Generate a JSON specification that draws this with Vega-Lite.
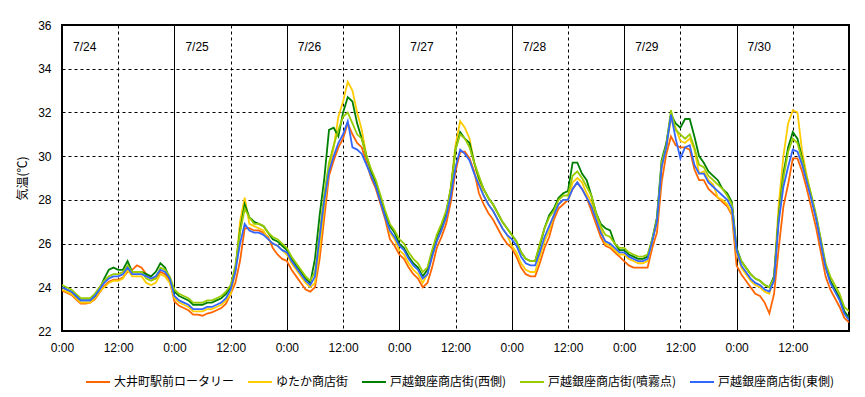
{
"$schema": "https://vega.github.io/schema/vega-lite/v6.json",
"width": 787, "height": 306,
"autosize": {"type": "none"},
"padding": {"left": 62, "top": 25, "right": 16, "bottom": 66},
"config": {"view": {"stroke": "black", "strokeWidth": 2}, "font": "Liberation Sans"},
"layer": [
{
"data": {"values": [
{"h":0,"a":23.85,"b":23.9,"c":24.0,"d":24.1,"e":24.0},
{"h":1,"a":23.75,"b":23.8,"c":23.9,"d":24.0,"e":23.9},
{"h":2,"a":23.65,"b":23.7,"c":23.8,"d":23.9,"e":23.8},
{"h":3,"a":23.45,"b":23.5,"c":23.6,"d":23.7,"e":23.6},
{"h":4,"a":23.25,"b":23.3,"c":23.4,"d":23.5,"e":23.4},
{"h":5,"a":23.25,"b":23.3,"c":23.4,"d":23.5,"e":23.4},
{"h":6,"a":23.3,"b":23.3,"c":23.4,"d":23.5,"e":23.4},
{"h":7,"a":23.45,"b":23.5,"c":23.6,"d":23.7,"e":23.6},
{"h":8,"a":23.75,"b":23.8,"c":23.9,"d":24.0,"e":23.9},
{"h":9,"a":24.05,"b":24.0,"c":24.4,"d":24.3,"e":24.2},
{"h":10,"a":24.25,"b":24.2,"c":24.8,"d":24.5,"e":24.4},
{"h":11,"a":24.35,"b":24.3,"c":24.9,"d":24.6,"e":24.5},
{"h":12,"a":24.35,"b":24.3,"c":24.8,"d":24.6,"e":24.5},
{"h":13,"a":24.45,"b":24.4,"c":24.8,"d":24.7,"e":24.6},
{"h":14,"a":24.7,"b":24.8,"c":25.2,"d":25.0,"e":24.9},
{"h":15,"a":24.8,"b":24.5,"c":24.7,"d":24.7,"e":24.6},
{"h":16,"a":25.0,"b":24.5,"c":24.7,"d":24.7,"e":24.6},
{"h":17,"a":24.9,"b":24.5,"c":24.7,"d":24.7,"e":24.6},
{"h":18,"a":24.6,"b":24.2,"c":24.6,"d":24.4,"e":24.5},
{"h":19,"a":24.4,"b":24.1,"c":24.5,"d":24.3,"e":24.4},
{"h":20,"a":24.4,"b":24.2,"c":24.7,"d":24.4,"e":24.5},
{"h":21,"a":24.7,"b":24.6,"c":25.1,"d":24.9,"e":24.8},
{"h":22,"a":24.6,"b":24.5,"c":24.9,"d":24.8,"e":24.7},
{"h":23,"a":24.3,"b":24.2,"c":24.4,"d":24.5,"e":24.4},
{"h":24,"a":23.35,"b":23.5,"c":23.8,"d":23.9,"e":23.6},
{"h":25,"a":23.15,"b":23.3,"c":23.6,"d":23.7,"e":23.4},
{"h":26,"a":23.05,"b":23.2,"c":23.5,"d":23.6,"e":23.3},
{"h":27,"a":22.95,"b":23.1,"c":23.4,"d":23.5,"e":23.2},
{"h":28,"a":22.75,"b":22.9,"c":23.2,"d":23.3,"e":23.0},
{"h":29,"a":22.75,"b":22.9,"c":23.2,"d":23.3,"e":23.0},
{"h":30,"a":22.7,"b":22.9,"c":23.2,"d":23.3,"e":23.0},
{"h":31,"a":22.8,"b":23.0,"c":23.3,"d":23.4,"e":23.1},
{"h":32,"a":22.85,"b":23.0,"c":23.3,"d":23.4,"e":23.1},
{"h":33,"a":22.95,"b":23.1,"c":23.4,"d":23.5,"e":23.2},
{"h":34,"a":23.05,"b":23.2,"c":23.5,"d":23.6,"e":23.3},
{"h":35,"a":23.25,"b":23.4,"c":23.7,"d":23.8,"e":23.5},
{"h":36,"a":23.7,"b":23.7,"c":24.0,"d":24.1,"e":23.9},
{"h":37,"a":24.2,"b":24.7,"c":24.8,"d":25.0,"e":24.7},
{"h":38,"a":25.2,"b":27.0,"c":26.6,"d":26.5,"e":26.0},
{"h":39,"a":26.7,"b":28.1,"c":27.8,"d":27.6,"e":26.9},
{"h":40,"a":26.7,"b":26.9,"c":27.2,"d":27.2,"e":26.6},
{"h":41,"a":26.6,"b":26.8,"c":27.0,"d":26.9,"e":26.5},
{"h":42,"a":26.6,"b":26.7,"c":26.9,"d":26.9,"e":26.5},
{"h":43,"a":26.5,"b":26.6,"c":26.8,"d":26.8,"e":26.4},
{"h":44,"a":26.3,"b":26.2,"c":26.5,"d":26.5,"e":26.2},
{"h":45,"a":25.8,"b":26.0,"c":26.2,"d":26.3,"e":26.0},
{"h":46,"a":25.5,"b":25.9,"c":26.1,"d":26.2,"e":25.9},
{"h":47,"a":25.3,"b":25.7,"c":25.9,"d":26.0,"e":25.7},
{"h":48,"a":25.2,"b":25.5,"c":25.7,"d":25.8,"e":25.6},
{"h":49,"a":24.8,"b":25.1,"c":25.3,"d":25.4,"e":25.2},
{"h":50,"a":24.5,"b":24.8,"c":25.0,"d":25.1,"e":24.9},
{"h":51,"a":24.2,"b":24.5,"c":24.7,"d":24.8,"e":24.6},
{"h":52,"a":23.9,"b":24.2,"c":24.4,"d":24.5,"e":24.3},
{"h":53,"a":23.8,"b":24.0,"c":24.2,"d":24.3,"e":24.1},
{"h":54,"a":24.0,"b":24.2,"c":25.3,"d":24.7,"e":24.5},
{"h":55,"a":25.3,"b":25.8,"c":27.3,"d":26.5,"e":26.3},
{"h":56,"a":27.2,"b":27.7,"c":29.0,"d":28.3,"e":28.0},
{"h":57,"a":29.1,"b":29.4,"c":31.2,"d":29.7,"e":29.3},
{"h":58,"a":29.8,"b":30.4,"c":31.3,"d":30.5,"e":30.0},
{"h":59,"a":30.4,"b":31.8,"c":30.9,"d":31.2,"e":30.6},
{"h":60,"a":30.8,"b":32.5,"c":32.0,"d":31.8,"e":31.0},
{"h":61,"a":31.5,"b":33.4,"c":32.7,"d":32.0,"e":31.6},
{"h":62,"a":31.0,"b":33.0,"c":32.5,"d":31.5,"e":30.4},
{"h":63,"a":30.6,"b":32.0,"c":31.5,"d":31.0,"e":30.3},
{"h":64,"a":30.4,"b":31.2,"c":30.8,"d":30.8,"e":30.1},
{"h":65,"a":29.7,"b":30.0,"c":30.0,"d":30.0,"e":29.6},
{"h":66,"a":29.0,"b":29.2,"c":29.3,"d":29.4,"e":29.1},
{"h":67,"a":28.5,"b":28.7,"c":28.8,"d":28.9,"e":28.6},
{"h":68,"a":27.8,"b":28.0,"c":28.1,"d":28.2,"e":27.9},
{"h":69,"a":27.1,"b":27.3,"c":27.4,"d":27.5,"e":27.2},
{"h":70,"a":26.2,"b":26.5,"c":26.8,"d":26.9,"e":26.6},
{"h":71,"a":25.9,"b":26.2,"c":26.5,"d":26.6,"e":26.3},
{"h":72,"a":25.5,"b":25.7,"c":26.0,"d":26.2,"e":25.9},
{"h":73,"a":25.3,"b":25.5,"c":25.8,"d":26.0,"e":25.7},
{"h":74,"a":24.9,"b":25.1,"c":25.4,"d":25.6,"e":25.3},
{"h":75,"a":24.6,"b":24.8,"c":25.1,"d":25.3,"e":25.0},
{"h":76,"a":24.4,"b":24.6,"c":24.9,"d":25.1,"e":24.8},
{"h":77,"a":24.0,"b":24.2,"c":24.5,"d":24.7,"e":24.4},
{"h":78,"a":24.2,"b":24.6,"c":24.8,"d":24.9,"e":24.6},
{"h":79,"a":24.9,"b":25.4,"c":25.6,"d":25.7,"e":25.4},
{"h":80,"a":25.8,"b":26.1,"c":26.3,"d":26.4,"e":26.1},
{"h":81,"a":26.3,"b":26.6,"c":26.8,"d":26.9,"e":26.6},
{"h":82,"a":26.9,"b":27.2,"c":27.4,"d":27.5,"e":27.2},
{"h":83,"a":27.9,"b":28.6,"c":28.5,"d":28.5,"e":28.2},
{"h":84,"a":29.3,"b":30.5,"c":30.3,"d":30.3,"e":29.5},
{"h":85,"a":30.2,"b":31.6,"c":31.1,"d":31.0,"e":30.3},
{"h":86,"a":30.2,"b":31.3,"c":30.8,"d":30.8,"e":30.1},
{"h":87,"a":29.9,"b":30.8,"c":30.6,"d":30.4,"e":29.8},
{"h":88,"a":29.3,"b":29.7,"c":29.7,"d":29.7,"e":29.2},
{"h":89,"a":28.3,"b":28.9,"c":29.0,"d":29.1,"e":28.7},
{"h":90,"a":27.8,"b":28.2,"c":28.5,"d":28.5,"e":28.2},
{"h":91,"a":27.4,"b":27.8,"c":28.1,"d":28.1,"e":27.8},
{"h":92,"a":27.1,"b":27.5,"c":27.8,"d":27.8,"e":27.5},
{"h":93,"a":26.7,"b":27.1,"c":27.4,"d":27.4,"e":27.1},
{"h":94,"a":26.3,"b":26.7,"c":27.0,"d":27.0,"e":26.7},
{"h":95,"a":26.0,"b":26.4,"c":26.7,"d":26.7,"e":26.4},
{"h":96,"a":25.8,"b":25.9,"c":26.4,"d":26.4,"e":26.2},
{"h":97,"a":25.4,"b":25.6,"c":26.1,"d":26.1,"e":25.9},
{"h":98,"a":24.9,"b":25.1,"c":25.6,"d":25.6,"e":25.4},
{"h":99,"a":24.6,"b":24.8,"c":25.3,"d":25.3,"e":25.1},
{"h":100,"a":24.5,"b":24.7,"c":25.2,"d":25.2,"e":25.0},
{"h":101,"a":24.5,"b":24.7,"c":25.2,"d":25.2,"e":25.0},
{"h":102,"a":25.1,"b":25.4,"c":25.9,"d":26.0,"e":25.6},
{"h":103,"a":25.8,"b":26.1,"c":26.7,"d":26.7,"e":26.3},
{"h":104,"a":26.3,"b":26.6,"c":27.3,"d":27.2,"e":26.8},
{"h":105,"a":27.1,"b":27.3,"c":27.6,"d":27.5,"e":27.3},
{"h":106,"a":27.6,"b":27.8,"c":28.1,"d":28.0,"e":27.8},
{"h":107,"a":27.8,"b":28.0,"c":28.3,"d":28.2,"e":28.0},
{"h":108,"a":28.0,"b":28.0,"c":28.4,"d":28.2,"e":28.0},
{"h":109,"a":28.5,"b":28.8,"c":29.7,"d":29.1,"e":28.5},
{"h":110,"a":28.8,"b":29.0,"c":29.7,"d":29.3,"e":28.8},
{"h":111,"a":28.5,"b":28.8,"c":29.2,"d":29.0,"e":28.5},
{"h":112,"a":28.1,"b":28.3,"c":28.9,"d":28.6,"e":28.1},
{"h":113,"a":27.5,"b":27.9,"c":28.2,"d":28.2,"e":27.7},
{"h":114,"a":26.9,"b":27.3,"c":27.4,"d":27.4,"e":27.1},
{"h":115,"a":26.3,"b":26.7,"c":26.9,"d":26.8,"e":26.5},
{"h":116,"a":25.9,"b":26.0,"c":26.7,"d":26.4,"e":26.1},
{"h":117,"a":25.8,"b":25.9,"c":26.6,"d":26.3,"e":26.0},
{"h":118,"a":25.6,"b":25.7,"c":26.0,"d":26.0,"e":25.8},
{"h":119,"a":25.4,"b":25.5,"c":25.7,"d":25.8,"e":25.6},
{"h":120,"a":25.2,"b":25.5,"c":25.7,"d":25.8,"e":25.6},
{"h":121,"a":25.0,"b":25.3,"c":25.5,"d":25.6,"e":25.4},
{"h":122,"a":24.9,"b":25.2,"c":25.4,"d":25.5,"e":25.3},
{"h":123,"a":24.9,"b":25.1,"c":25.3,"d":25.4,"e":25.2},
{"h":124,"a":24.9,"b":25.1,"c":25.3,"d":25.4,"e":25.2},
{"h":125,"a":24.9,"b":25.2,"c":25.4,"d":25.5,"e":25.3},
{"h":126,"a":25.8,"b":26.1,"c":26.2,"d":26.2,"e":26.1},
{"h":127,"a":26.5,"b":27.0,"c":27.2,"d":27.1,"e":27.0},
{"h":128,"a":28.8,"b":29.5,"c":29.8,"d":29.7,"e":29.5},
{"h":129,"a":30.1,"b":30.4,"c":30.6,"d":30.5,"e":30.4},
{"h":130,"a":30.9,"b":31.7,"c":31.9,"d":32.1,"e":31.9},
{"h":131,"a":30.5,"b":31.3,"c":31.5,"d":31.2,"e":30.8},
{"h":132,"a":30.4,"b":30.7,"c":31.3,"d":31.0,"e":29.9},
{"h":133,"a":30.4,"b":30.6,"c":31.7,"d":30.8,"e":30.4},
{"h":134,"a":30.3,"b":30.8,"c":31.7,"d":31.0,"e":30.5},
{"h":135,"a":29.4,"b":30.3,"c":30.9,"d":30.4,"e":29.6},
{"h":136,"a":28.9,"b":29.2,"c":30.0,"d":29.6,"e":29.2},
{"h":137,"a":28.9,"b":29.3,"c":29.7,"d":29.5,"e":29.2},
{"h":138,"a":28.5,"b":28.9,"c":29.3,"d":29.1,"e":28.8},
{"h":139,"a":28.3,"b":28.7,"c":29.1,"d":28.9,"e":28.6},
{"h":140,"a":28.1,"b":28.1,"c":28.9,"d":28.7,"e":28.4},
{"h":141,"a":27.9,"b":28.0,"c":28.5,"d":28.5,"e":28.2},
{"h":142,"a":27.7,"b":27.8,"c":28.3,"d":28.2,"e":28.0},
{"h":143,"a":27.3,"b":27.4,"c":27.9,"d":27.8,"e":27.6},
{"h":144,"a":25.0,"b":25.6,"c":25.8,"d":25.7,"e":25.7},
{"h":145,"a":24.6,"b":24.9,"c":25.2,"d":25.2,"e":25.0},
{"h":146,"a":24.3,"b":24.6,"c":24.9,"d":24.9,"e":24.7},
{"h":147,"a":24.0,"b":24.3,"c":24.6,"d":24.6,"e":24.4},
{"h":148,"a":23.7,"b":24.1,"c":24.4,"d":24.4,"e":24.2},
{"h":149,"a":23.6,"b":24.0,"c":24.3,"d":24.3,"e":24.1},
{"h":150,"a":23.3,"b":23.8,"c":24.1,"d":24.1,"e":23.9},
{"h":151,"a":22.8,"b":23.7,"c":24.0,"d":24.0,"e":23.8},
{"h":152,"a":23.7,"b":24.5,"c":24.5,"d":24.4,"e":24.3},
{"h":153,"a":25.8,"b":27.8,"c":27.3,"d":27.2,"e":27.0},
{"h":154,"a":27.7,"b":30.0,"c":29.2,"d":29.0,"e":28.6},
{"h":155,"a":28.7,"b":31.5,"c":30.4,"d":30.2,"e":29.5},
{"h":156,"a":29.9,"b":32.1,"c":31.1,"d":30.8,"e":30.3},
{"h":157,"a":29.9,"b":32.0,"c":30.8,"d":30.6,"e":30.2},
{"h":158,"a":29.3,"b":30.2,"c":29.9,"d":29.8,"e":29.6},
{"h":159,"a":28.5,"b":29.1,"c":28.9,"d":29.0,"e":28.8},
{"h":160,"a":27.6,"b":28.1,"c":28.1,"d":28.2,"e":28.0},
{"h":161,"a":26.7,"b":27.2,"c":27.2,"d":27.3,"e":27.1},
{"h":162,"a":25.6,"b":26.1,"c":26.1,"d":26.2,"e":26.0},
{"h":163,"a":24.5,"b":25.0,"c":25.0,"d":25.1,"e":24.9},
{"h":164,"a":23.9,"b":24.3,"c":24.3,"d":24.5,"e":24.2},
{"h":165,"a":23.5,"b":23.9,"c":23.9,"d":24.1,"e":23.8},
{"h":166,"a":23.1,"b":23.5,"c":23.5,"d":23.7,"e":23.4},
{"h":167,"a":22.6,"b":22.9,"c":22.9,"d":23.1,"e":22.8},
{"h":168,"a":22.4,"b":22.6,"c":22.6,"d":22.9,"e":22.5}
]},
"transform": [{"fold": ["a", "b", "c", "d", "e"], "as": ["series", "temp"]}],
"mark": {"type": "line", "strokeWidth": 1.8, "clip": true},
"encoding": {
"x": {"field": "h", "type": "quantitative",
 "scale": {"domain": [0, 168], "nice": false, "zero": false},
 "axis": {"values": [0,12,24,36,48,60,72,84,96,108,120,132,144,156],
  "labelExpr": "datum.value % 24 === 0 ? '0:00' : '12:00'",
  "title": null, "grid": true, "gridColor": "black", "gridOpacity": 1, "gridWidth": 1,
  "gridDash": {"condition": {"test": "datum.value % 24 === 0", "value": []}, "value": [3, 3]},
  "tickSize": 0, "domain": false, "labelPadding": 11, "labelFontSize": 12,
  "labelFont": "Liberation Sans", "labelColor": "black", "labelFlush": false, "labelOverlap": false}},
"y": {"field": "temp", "type": "quantitative",
 "scale": {"domain": [22, 36], "nice": false, "zero": false},
 "axis": {"values": [22,24,26,28,30,32,34,36], "title": "気温(℃)",
  "titleFont": "Noto Sans CJK JP", "titleFontSize": 12, "titleFontWeight": "normal", "titleColor": "black", "titlePadding": 8,
  "grid": true, "gridColor": "black", "gridOpacity": 1, "gridWidth": 1, "gridDash": [3, 3],
  "tickSize": 0, "domain": false, "labelPadding": 11, "labelFontSize": 12,
  "labelFont": "Liberation Sans", "labelColor": "black", "labelOverlap": false}},
"color": {"field": "series", "type": "nominal",
 "scale": {"domain": ["a", "b", "c", "d", "e"], "range": ["#FF6600", "#FFCC00", "#008000", "#99CC00", "#3366FF"]},
 "legend": {"orient": "none", "legendX": 23, "legendY": 344, "direction": "horizontal", "title": null,
  "symbolType": "stroke", "symbolSize": 576, "symbolStrokeWidth": 2,
  "labelFont": "Noto Sans CJK JP", "labelFontSize": 12, "labelColor": "black", "labelOffset": 3, "columnPadding": 9,
  "labelLimit": 300,
  "labelExpr": "datum.value === 'a' ? '大井町駅前ロータリー' : datum.value === 'b' ? 'ゆたか商店街' : datum.value === 'c' ? '戸越銀座商店街(西側)' : datum.value === 'd' ? '戸越銀座商店街(噴霧点)' : '戸越銀座商店街(東側)'"}}
}
},
{
"data": {"values": [
{"h":0,"label":"7/24"},{"h":24,"label":"7/25"},{"h":48,"label":"7/26"},{"h":72,"label":"7/27"},
{"h":96,"label":"7/28"},{"h":120,"label":"7/29"},{"h":144,"label":"7/30"}
]},
"mark": {"type": "text", "align": "left", "baseline": "middle", "dx": 11, "fontSize": 12, "font": "Liberation Sans", "color": "black"},
"encoding": {
"x": {"field": "h", "type": "quantitative"},
"y": {"datum": 35},
"text": {"field": "label"}
}
}
]
}
